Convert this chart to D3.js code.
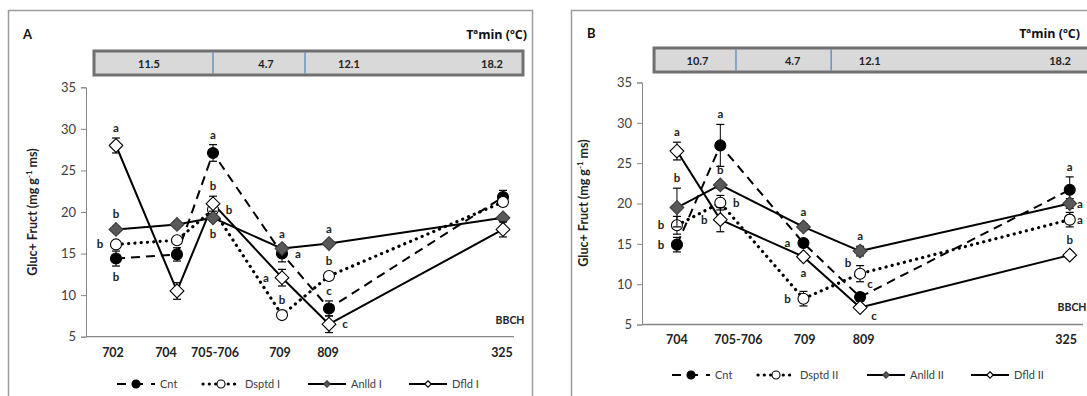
<!DOCTYPE html>
<html><head><meta charset="utf-8">
<script src="https://cdn.jsdelivr.net/npm/d3@7"></script>
<style>body{margin:0;background:#fff;} svg{display:block;font-family:Lato,"Open Sans",sans-serif;}</style>
</head><body><svg id="chart" width="1087" height="396"></svg>
<script>
// ---------- DATA ----------
const sampleDay = [0, 61, 97, 166, 213, 387];            // relative sampling day
const bbchA = ["702","704","705-706","709","809","325"];
const bbchB = ["704","705-706","709","809","325"];
const bbchLabelDayA = [-3, 50, 99, 164, 212, 386];      // where each BBCH label sits
const bbchLabelDayB = [61, 112, 167, 216, 384];
const yTicks = [5,10,15,20,25,30,35];
const namesA = ["Cnt","Dsptd I","Anlld I","Dfld I"];
const namesB = ["Cnt","Dsptd II","Anlld II","Dfld II"];

// Panel A values (mg g-1 ms) and error bars
const cntA    = [14.4, 14.9, 27.1, 15.0, 8.4, 21.8];
const dsptdA  = [16.1, 16.6, 20.3, 7.6, 12.3, 21.2];
const anlldA  = [17.9, 18.5, 19.3, 15.6, 16.2, 19.3];
const dfldA   = [28.0, 10.5, 21.0, 12.1, 6.5, 17.9];
const errCntA   = [0.9, 0.8, 1.0, 1.0, 0.9, 0.8];
const errDsptdA = [0.4, 0.4, 0.6, 0.4, 0.4, 0.5];
const errAnlldA = [0.3, 0.3, 0.4, 0.4, 0.3, 0.3];
const errDfldA  = [0.9, 1.0, 0.9, 1.0, 1.0, 0.9];
// significance letters and where they sit (t,b,l,r,tl,tr,bl,br)
const letCntA   = ["b","","a","a","c",""],  posCntA   = ["b","","t","r","t",""];
const letDsptdA = ["b","","b","b","b",""],  posDsptdA = ["l","","r","t","t",""];
const letAnlldA = ["b","","b","a","a",""],  posAnlldA = ["t","","b","t","t",""];
const letDfldA  = ["a","","b","a","c",""],  posDfldA  = ["t","","t","l","r",""];

// Panel B values
const cntB    = [14.9, 27.2, 15.1, 8.4, 21.7];
const dsptdB  = [17.3, 20.1, 8.2, 11.3, 18.0];
const anlldB  = [19.5, 22.3, 17.1, 14.1, 20.0];
const dfldB   = [26.5, 18.0, 13.4, 7.1, 13.6];
const errCntB   = [0.9, 2.6, 0.4, 0.5, 1.6];
const errDsptdB = [1.1, 0.9, 0.9, 1.0, 0.9];
const errAnlldB = [2.4, 0.4, 0.4, 0.6, 0.6];
const errDfldB  = [1.1, 1.5, 0.4, 0.3, 0.4];
const letCntB   = ["b","a","a","c","a"],  posCntB   = ["l","t","l","tr","t"];
const letDsptdB = ["b","b","b","b","a"],  posDsptdB = ["l","r","l","tl","r"];
const letAnlldB = ["b","b","a","a","a"],  posAnlldB = ["t","t","t","t","r"];
const letDfldB  = ["a","b","a","c","b"],  posDfldB  = ["t","l","b","br","t"];

// Minimum temperature strip
const tempA = ["11.5","4.7","12.1","18.2"];
const tempLabelDayA = [33, 150, 233, 376];
const tempDividerDayA = [97, 189];
const tempSpanDayA = [-22, 407];
const tempB = ["10.7","4.7","12.1","18.2"];
const tempLabelDayB = [78, 157, 221, 379];
const tempDividerDayB = [110, 189];
const tempSpanDayB = [42, 403];

// ---------- DRAW ----------
const svg = d3.select("#chart");
svg.append("rect").attr("width",1087).attr("height",396).attr("fill","#fff");

const styles = [
  {key:"cnt",   dash:"9,6",    width:2,   cap:"butt",  marker:"circle",  fill:"#000", stroke:"#000"},
  {key:"dsptd", dash:"0.1,6.2",width:3.2, cap:"round", marker:"circle",  fill:"#fff", stroke:"#000"},
  {key:"anlld", dash:null,     width:2,   cap:"butt",  marker:"diamond", fill:"#595959", stroke:"#3a3a3a"},
  {key:"dfld",  dash:null,     width:2,   cap:"butt",  marker:"diamond", fill:"#fff", stroke:"#000"}
];

function marker(g, type, x, y, s, fill, stroke){
  if(type==="circle"){
    g.append("circle").attr("cx",x).attr("cy",y).attr("r",s)
      .attr("fill",fill).attr("stroke",stroke).attr("stroke-width",1.1);
  } else {
    const d = s*1.25;
    g.append("path").attr("d",`M${x},${y-d}L${x+d},${y}L${x},${y+d}L${x-d},${y}Z`)
      .attr("fill",fill).attr("stroke",stroke).attr("stroke-width",1.1);
  }
}

function drawPanel(cfg){
  const g = svg.append("g");
  // frame
  g.append("rect").attr("x",cfg.frameX).attr("y",10.5).attr("width",cfg.frameW).attr("height",420)
    .attr("fill","none").attr("stroke","#9c9c9c").attr("stroke-width",1.5);
  const x = d3.scaleLinear().domain(cfg.xDomain).range(cfg.xRange);
  const y = d3.scaleLinear().domain([5,35]).range(cfg.yRange);

  // panel letter and temp title
  g.append("text").attr("x",cfg.letterX).attr("y",cfg.titleY).text(cfg.letter)
    .attr("font-weight","bold").attr("font-size",13).attr("fill","#111");
  g.append("text").attr("x",cfg.titleRight).attr("y",cfg.titleY).attr("text-anchor","end")
    .text("Tªmin (ºC)").attr("font-family","'Open Sans'").attr("font-weight","bold").attr("font-size",12.5).attr("fill","#111");

  // temperature strip
  const bx0 = x(cfg.tempSpan[0]), bx1 = x(cfg.tempSpan[1]);
  g.append("rect").attr("x",bx0).attr("y",cfg.barY).attr("width",bx1-bx0).attr("height",24)
    .attr("fill","#d9d9d9").attr("stroke","#707070").attr("stroke-width",3);
  cfg.tempDiv.forEach(dv=>{
    g.append("line").attr("x1",x(dv)).attr("x2",x(dv)).attr("y1",cfg.barY+1.5).attr("y2",cfg.barY+22.5)
      .attr("stroke","#4f81bd").attr("stroke-width",1.2);
  });
  cfg.temp.forEach((t,i)=>{
    g.append("text").attr("x",x(cfg.tempLabelDay[i])).attr("y",cfg.barY+16.5).attr("text-anchor","middle")
      .text(t).attr("font-weight","bold").attr("font-size",11).attr("fill","#222");
  });

  // axes
  const yAxis = d3.axisLeft(y).tickValues(yTicks).tickSize(5).tickPadding(5);
  const ya = g.append("g").attr("transform",`translate(${cfg.xRange[0]},0)`).call(yAxis);
  ya.select(".domain").attr("stroke","#868686");
  ya.selectAll(".tick line").attr("stroke","#868686");
  ya.selectAll(".tick text").attr("font-size",13).attr("fill","#404040").attr("font-family","Lato");
  g.append("line").attr("x1",cfg.xRange[0]).attr("x2",cfg.xRange[1]).attr("y1",y(5)).attr("y2",y(5))
    .attr("stroke","#868686").attr("stroke-width",1.3);

  // y title
  const yt = g.append("text").attr("transform",`translate(${cfg.ytX},${cfg.ytY}) rotate(-90)`)
    .attr("text-anchor","middle").attr("font-weight","bold").attr("font-size",12.5).attr("fill","#222");
  yt.append("tspan").text("Gluc+ Fruct (mg g");
  yt.append("tspan").text("-1").attr("font-size",8).attr("dy",-5);
  yt.append("tspan").text(" ms)").attr("dy",5);

  // x labels
  cfg.cats.forEach((c,i)=>{
    g.append("text").attr("x",x(cfg.labDays[i])).attr("y",cfg.xLabY).attr("text-anchor","middle")
      .text(c).attr("font-weight","bold").attr("font-size",12.5).attr("fill","#222");
  });
  g.append("text").attr("x",cfg.bbchX).attr("y",cfg.bbchY).attr("text-anchor","middle").text("BBCH")
    .attr("font-weight","bold").attr("font-size",10.5).attr("fill","#222");

  // series
  cfg.series.forEach((s,si)=>{
    const st = styles[si];
    const pts = s.v.map((v,i)=>[x(cfg.days[i]), y(v)]);
    const p = g.append("path").attr("d",d3.line()(pts)).attr("fill","none").attr("stroke","#000")
      .attr("stroke-width",st.width).attr("stroke-linecap",st.cap).attr("stroke-linejoin","round");
    if(st.dash) p.attr("stroke-dasharray",st.dash);
  });
  cfg.series.forEach((s,si)=>{
    const st = styles[si];
    s.v.forEach((v,i)=>{
      const px = x(cfg.days[i]);
      const y0 = y(v - s.e[i]), y1 = y(v + s.e[i]);
      g.append("line").attr("x1",px).attr("x2",px).attr("y1",y0).attr("y2",y1).attr("stroke","#000").attr("stroke-width",1);
      [y0,y1].forEach(yy=>g.append("line").attr("x1",px-4).attr("x2",px+4).attr("y1",yy).attr("y2",yy)
        .attr("stroke","#000").attr("stroke-width",1.2));
    });
    s.v.forEach((v,i)=>marker(g, st.marker, x(cfg.days[i]), y(v), 5.5, st.fill, st.stroke));
  });
  // letters
  cfg.series.forEach(s=>{
    s.l.forEach((L,i)=>{
      if(!L) return;
      const px = x(cfg.days[i]), py = y(s.v[i]);
      const top = y(s.v[i]+s.e[i]), bot = y(s.v[i]-s.e[i]);
      let lx = px, ly = py;
      switch(s.p[i]){
        case "t": ly = Math.min(py-15, top-10); break;
        case "b": ly = Math.max(py+16, bot+11); break;
        case "l": lx = px-16; break;
        case "r": lx = Math.min(px+16, cfg.xRange[1]-3); break;
        case "tl": lx = px-12; ly = py-11; break;
        case "tr": lx = px+10; ly = py-13; break;
        case "bl": lx = px-12; ly = py+10; break;
        case "br": lx = px+14; ly = py+8; break;
      }
      g.append("text").attr("x",lx).attr("y",ly+4).attr("text-anchor","middle").text(L)
        .attr("font-weight","bold").attr("font-size",11.5).attr("fill","#222");
    });
  });

  // legend
  cfg.names.forEach((n,i)=>{
    const st = styles[i];
    const lx = cfg.legX[i], ly = cfg.legY;
    const ln = g.append("line").attr("x1",lx).attr("x2",lx+38).attr("y1",ly).attr("y2",ly)
      .attr("stroke","#000").attr("stroke-width",st.width).attr("stroke-linecap",st.cap);
    if(st.dash) ln.attr("stroke-dasharray", i===0 ? "9,8" : "0.1,6.2").attr("stroke-dashoffset", i===0?0:-1);
    marker(g, st.marker, lx+19, ly, i<2?4:2.6, st.fill, st.stroke);
    g.append("text").attr("x",lx+43).attr("y",ly+4).text(n).attr("font-size",11).attr("fill","#404040");
  });
}

drawPanel({
  letter:"A", frameX:8.5, frameW:524, letterX:23, titleRight:527, titleY:39, barY:51,
  xDomain:[-30,398], xRange:[86,514], yRange:[336.7,87.3],
  days:sampleDay, labDays:bbchLabelDayA, cats:bbchA, names:namesA, xLabY:357, bbchX:510, bbchY:324,
  ytX:37, ytY:212,
  temp:tempA, tempLabelDay:tempLabelDayA, tempDiv:tempDividerDayA, tempSpan:tempSpanDayA,
  legX:[117,202,308,409], legY:384,
  series:[
    {v:cntA, e:errCntA, l:letCntA, p:posCntA},
    {v:dsptdA, e:errDsptdA, l:letDsptdA, p:posDsptdA},
    {v:anlldA, e:errAnlldA, l:letAnlldA, p:posAnlldA},
    {v:dfldA, e:errDfldA, l:letDfldA, p:posDfldA}
  ]
});
drawPanel({
  letter:"B", frameX:571.5, frameW:540, letterX:587, titleRight:1080, titleY:38, barY:48,
  xDomain:[32,398], xRange:[642,1083], yRange:[324.5,82.5],
  days:sampleDay.slice(1), labDays:bbchLabelDayB, cats:bbchB, names:namesB, xLabY:344, bbchX:1072, bbchY:311,
  ytX:588, ytY:203,
  temp:tempB, tempLabelDay:tempLabelDayB, tempDiv:tempDividerDayB, tempSpan:tempSpanDayB,
  legX:[672,757,867,971], legY:375,
  series:[
    {v:cntB, e:errCntB, l:letCntB, p:posCntB},
    {v:dsptdB, e:errDsptdB, l:letDsptdB, p:posDsptdB},
    {v:anlldB, e:errAnlldB, l:letAnlldB, p:posAnlldB},
    {v:dfldB, e:errDfldB, l:letDfldB, p:posDfldB}
  ]
});
</script></body></html>
